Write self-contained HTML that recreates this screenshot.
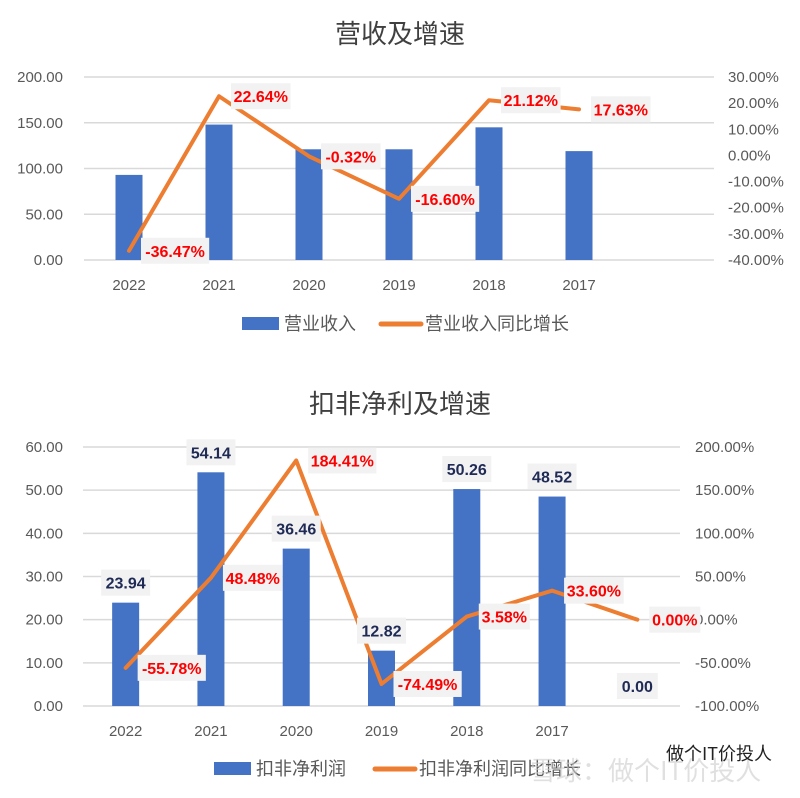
<!DOCTYPE html>
<html><head><meta charset="utf-8"><style>
html,body{margin:0;padding:0;background:#fff;}
svg{display:block;font-family:"Liberation Sans Narrow","Liberation Sans","Noto Sans CJK SC",sans-serif;}
</style></head><body>
<svg id="c" width="800" height="798" viewBox="0 0 800 798" xmlns="http://www.w3.org/2000/svg"></svg>
<script>
// Chart 1 data
const years1 = ["2022","2021","2020","2019","2018","2017"];
const revenue = [93, 148, 121, 121, 145, 119];
const revGrowth = [-36.47, 22.64, -0.32, -16.60, 21.12, 17.63];
const left1Ticks = [0, 50, 100, 150, 200];
const right1Ticks = [-40, -30, -20, -10, 0, 10, 20, 30];
// Chart 2 data
const years2 = ["2022","2021","2020","2019","2018","2017",""];
const profit = [23.94, 54.14, 36.46, 12.82, 50.26, 48.52, 0.00];
const profitGrowth = [-55.78, 48.48, 184.41, -74.49, 3.58, 33.60, 0.00];
const left2Ticks = [0, 10, 20, 30, 40, 50, 60];
const right2Ticks = [-100, -50, 0, 50, 100, 150, 200];

const NS = "http://www.w3.org/2000/svg";
const svg = document.getElementById("c");
function mk(tag, attrs, parent, text){
  const e = document.createElementNS(NS, tag);
  for (const k in attrs) e.setAttribute(k, attrs[k]);
  if (text !== undefined) e.textContent = text;
  (parent || svg).appendChild(e);
  return e;
}

function drawChart(o){
  const g = mk("g", {});
  
  
  const slot = (o.x1 - o.x0) / o.nSlots;
  const xc = i => o.x0 + slot * (i + 0.5);
  const yL = v => o.yBot - (v - o.lMin) / (o.lMax - o.lMin) * (o.yBot - o.yTop);
  const yR = v => o.yBot - (v - o.rMin) / (o.rMax - o.rMin) * (o.yBot - o.yTop);

  const t = mk("text", {x: 400, y: o.titleY, "text-anchor": "middle", "font-size": 26, fill: "#404040", "font-family": "'Liberation Sans','Noto Sans CJK SC',sans-serif"}, g, o.title);
  
  

  o.lTicks.forEach(v => {
    const l = mk("line", {x1: o.x0, x2: o.x1, y1: yL(v), y2: yL(v), stroke: "#d9d9d9", "stroke-width": 1.5}, g);
    
    
    const tx = mk("text", {x: o.lLabelX, y: yL(v) + 5, "text-anchor": "end", "font-size": 15, fill: "#595959"}, g, v.toFixed(2));
    
    
  });
  o.rTicks.forEach(v => {
    const tx = mk("text", {x: o.rLabelX, y: yR(v) + 5, "text-anchor": "start", "font-size": 15, fill: "#595959"}, g, v.toFixed(2) + "%");
    
    
  });
  o.cats.forEach((c, i) => {
    if (!c) return;
    const tx = mk("text", {x: xc(i), y: o.xLabelY, "text-anchor": "middle", "font-size": 15, fill: "#595959"}, g, c);
    
    
  });
  o.bars.forEach((v, i) => {
    const r = mk("rect", {x: xc(i) - 13.5, y: yL(v), width: 27, height: Math.max(0, o.yBot - yL(v)), fill: "#4472c4"}, g);
    
    
  });
  const pts = o.line.map((v, i) => xc(i) + "," + yR(v)).join(" ");
  const pl = mk("polyline", {points: pts, fill: "none", stroke: "#ed7d31", "stroke-width": 4, "stroke-linejoin": "round", "stroke-linecap": "round"}, g);
  
  

  if (o.barLabels) {
    o.bars.forEach((v, i) => {
      const cy = yL(v) - 20;
      const txt = v.toFixed(2);
      const w = txt.length * 8.2 + 8;
      const b = mk("rect", {x: xc(i) - w/2, y: cy - 13, width: w, height: 26, fill: "#f2f2f2"}, g);
      
      
      const tx = mk("text", {x: xc(i), y: cy + 6, "text-anchor": "middle", "font-size": 16, "font-weight": "bold", fill: "#1f2a55"}, g, txt);
      
      
    });
  }
  o.line.forEach((v, i) => {
    const cx = xc(i) + 12, cy = yR(v);
    const txt = v.toFixed(2) + "%";
    const w = txt.length * 8.6 + 8;
    const b = mk("rect", {x: cx, y: cy - 13, width: w, height: 26, fill: "#f2f2f2"}, g);
    
    
    const tx = mk("text", {x: cx + w/2, y: cy + 6, "text-anchor": "middle", "font-size": 16, "font-weight": "bold", fill: "#ff0000"}, g, txt);
    
    
  });

  // legend
  const lg = mk("g", {}, g);
  
  
  const r = mk("rect", {x: o.legX, y: o.legY - 6, width: 37, height: 13, fill: "#4472c4"}, lg);
  
  
  const t1 = mk("text", {x: o.legX + 42, y: o.legY + 7, "font-size": 18, fill: "#595959", "font-family": "'Noto Sans CJK SC',sans-serif"}, lg, o.legBar);
  
  
  const l = mk("line", {x1: o.legX2, x2: o.legX2 + 40, y1: o.legY + 1, y2: o.legY + 1, stroke: "#ed7d31", "stroke-width": 5, "stroke-linecap": "round"}, lg);
  
  
  const t2 = mk("text", {x: o.legX2 + 44, y: o.legY + 7, "font-size": 18, fill: "#595959", "font-family": "'Noto Sans CJK SC',sans-serif"}, lg, o.legLine);
  
  
}

drawChart({name: "revenue-chart", title: "营收及增速", titleY: 43, x0: 84, x1: 714, nSlots: 7,
  yTop: 77, yBot: 260, lMin: 0, lMax: 200, rMin: -40, rMax: 30,
  lTicks: left1Ticks, rTicks: right1Ticks, cats: years1, bars: revenue, line: revGrowth,
  lLabelX: 63, rLabelX: 728, xLabelY: 290, barLabels: false,
  legX: 242, legX2: 381, legY: 323, legBar: "营业收入", legLine: "营业收入同比增长"});

drawChart({name: "profit-chart", title: "扣非净利及增速", titleY: 413, x0: 83, x1: 680, nSlots: 7,
  yTop: 447, yBot: 706, lMin: 0, lMax: 60, rMin: -100, rMax: 200,
  lTicks: left2Ticks, rTicks: right2Ticks, cats: years2, bars: profit, line: profitGrowth,
  lLabelX: 63, rLabelX: 695, xLabelY: 736, barLabels: true,
  legX: 214, legX2: 375, legY: 768, legBar: "扣非净利润", legLine: "扣非净利润同比增长"});

const w1 = mk("text", {x: 530, y: 780, "font-size": 26, fill: "#cccccc", "fill-opacity": 0.6, "font-family": "'Noto Sans CJK SC',sans-serif"}, svg, "雪球：做个IT价投人");


const w2 = mk("text", {x: 666, y: 760, "font-size": 18, fill: "#222", "font-family": "'Noto Sans CJK SC',sans-serif"}, svg, "做个IT价投人");


</script>
</body></html>
